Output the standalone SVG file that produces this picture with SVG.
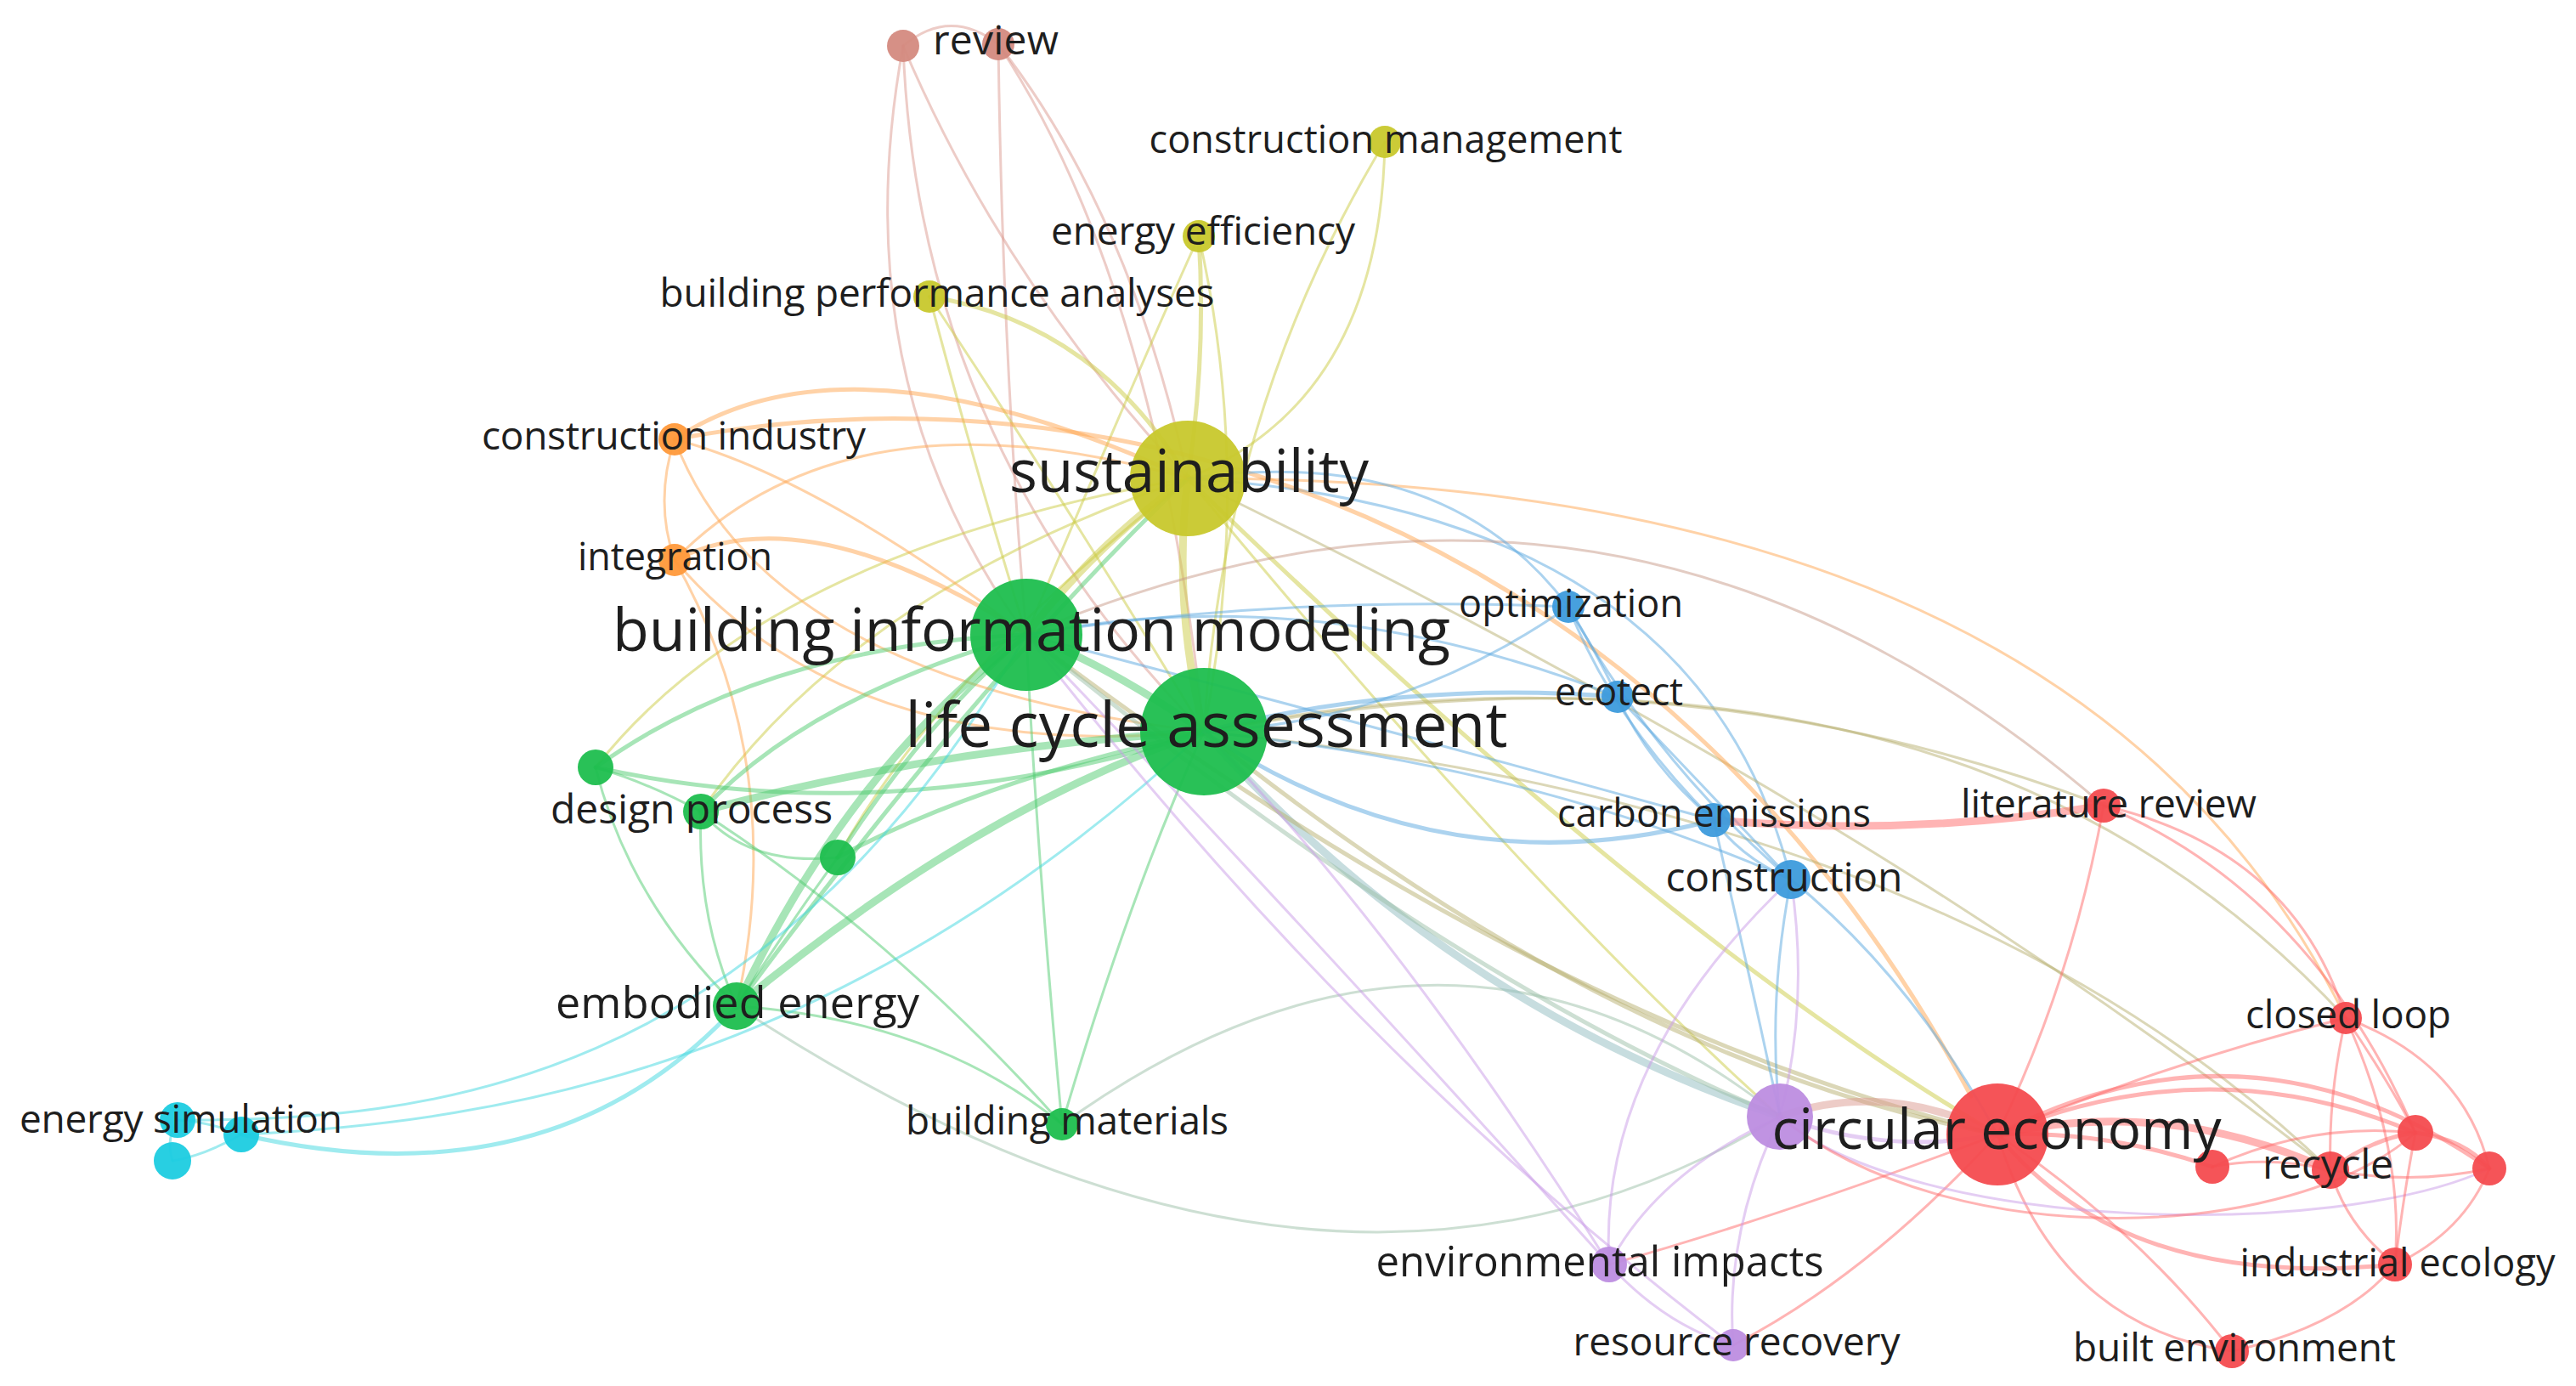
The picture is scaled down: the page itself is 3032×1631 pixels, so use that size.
<svg xmlns="http://www.w3.org/2000/svg" width="3032" height="1631" viewBox="0 0 3032 1631">
<style>
.e{fill:none;stroke-linecap:round;stroke-opacity:0.5}
.w1{stroke-width:3}.w2{stroke-width:5}.w3{stroke-width:9}
.k{stroke:#dc9a90}.y{stroke:#cccc44}.o{stroke:#ffa650}.g{stroke:#50cc70}.c{stroke:#40d8e0}
.b{stroke:#5aa8e0}.r{stroke:#ff6a6a}.p{stroke:#c99ce8}.ol{stroke:#b8b070}.gg{stroke:#9cbfa8}.bg{stroke:#90bcc0}.br{stroke:#c89a88}
.nr{fill:#f44b4f}.ng{fill:#1ebe4e}.nb{fill:#3d9bdc}.ny{fill:#c8c82c}.np{fill:#bd8de0}.nc{fill:#1ccce0}.no{fill:#ff993a}.nk{fill:#d48a80}
circle{fill-opacity:0.95}
text{font-family:"Open Sans","Liberation Sans",sans-serif;fill:#1e1e1e;text-anchor:middle}
</style>
<rect width="3032" height="1631" fill="#ffffff"/>
<g id="connectors">
<path class="e k w1" d="M1063,54 Q1118,8 1175,52"/>
<path class="e k w1" d="M1063,54 Q990,450 1208,747"/>
<path class="e k w1" d="M1063,54 Q1080,520 1417,861"/>
<path class="e k w1" d="M1063,54 Q1180,330 1398,563"/>
<path class="e k w1" d="M1175,52 Q1330,250 1398,563"/>
<path class="e k w1" d="M1175,52 Q1360,330 1417,861"/>
<path class="e k w1" d="M1175,52 Q1180,420 1208,747"/>
<path class="e y w1" d="M1630,167 Q1625,470 1398,563"/>
<path class="e y w1" d="M1630,167 Q1440,480 1417,861"/>
<path class="e y w2" d="M1411,278 Q1420,420 1398,563"/>
<path class="e y w1" d="M1411,278 Q1320,480 1208,747"/>
<path class="e y w1" d="M1411,278 Q1475,560 1417,861"/>
<path class="e y w2" d="M1094,349 Q1290,380 1398,563"/>
<path class="e y w1" d="M1094,349 Q1150,560 1208,747"/>
<path class="e y w1" d="M1094,349 Q1260,600 1417,861"/>
<path class="e y w3" d="M1398,563 Q1290,640 1208,747"/>
<path class="e y w3" d="M1398,563 Q1380,710 1417,861"/>
<path class="e o w1" d="M1398,563 Q2450,560 2761,1198"/>
<path class="e b w1" d="M1398,563 Q2000,600 2108,1035"/>
<path class="e y w2" d="M1398,563 Q1950,1100 2351,1335"/>
<path class="e y w1" d="M1398,563 Q1800,1050 2095,1314"/>
<path class="e ol w1" d="M1398,563 Q2200,950 2743,1377"/>
<path class="e y w1" d="M1398,563 Q1000,700 825,955"/>
<path class="e y w1" d="M1398,563 Q900,650 701,903"/>
<path class="e y w1" d="M1398,563 Q1100,800 986,1009"/>
<path class="e g w2" d="M1398,563 Q1150,800 867,1184"/>
<path class="e o w2" d="M794,517 Q1000,380 1398,563"/>
<path class="e o w1" d="M794,517 Q960,560 1208,747"/>
<path class="e o w1" d="M794,517 Q770,590 794,659"/>
<path class="e o w1" d="M794,517 Q900,800 1417,861"/>
<path class="e o w2" d="M794,659 Q950,580 1208,747"/>
<path class="e o w1" d="M794,659 Q1000,900 1417,861"/>
<path class="e o w1" d="M794,659 Q1000,450 1398,563"/>
<path class="e o w1" d="M794,659 Q930,900 867,1184"/>
<path class="e o w2" d="M794,517 C1300,420 1950,600 2320,1290"/>
<path class="e g w3" d="M1208,747 Q1300,780 1417,861"/>
<path class="e g w2" d="M1208,747 Q900,760 701,903"/>
<path class="e g w2" d="M1417,861 Q1050,980 701,903"/>
<path class="e g w2" d="M1208,747 Q950,820 825,955"/>
<path class="e g w3" d="M1417,861 Q1100,880 825,955"/>
<path class="e g w2" d="M1208,747 Q1080,860 986,1009"/>
<path class="e g w2" d="M1417,861 Q1150,920 986,1009"/>
<path class="e g w1" d="M825,955 Q880,1020 986,1009"/>
<path class="e g w1" d="M701,903 Q760,920 825,955"/>
<path class="e g w1" d="M825,955 Q820,1080 867,1184"/>
<path class="e g w1" d="M986,1009 Q920,1100 867,1184"/>
<path class="e g w1" d="M701,903 Q740,1060 867,1184"/>
<path class="e g w1" d="M825,955 Q1050,1100 1250,1323"/>
<path class="e g w3" d="M867,1184 Q1000,900 1208,747"/>
<path class="e g w3" d="M867,1184 Q1150,950 1417,861"/>
<path class="e g w1" d="M867,1184 Q1100,1200 1250,1323"/>
<path class="e gg w1" d="M867,1184 Q1560,1640 2095,1314"/>
<path class="e g w1" d="M1250,1323 Q1220,1000 1208,747"/>
<path class="e g w1" d="M1250,1323 Q1330,1050 1417,861"/>
<path class="e gg w1" d="M1250,1323 Q1700,1000 2095,1314"/>
<path class="e bg w3" d="M1417,861 Q1700,1180 2095,1314"/>
<path class="e ol w2" d="M1417,861 Q1900,1250 2351,1335"/>
<path class="e ol w2" d="M1208,747 Q1800,1200 2351,1335"/>
<path class="e gg w2" d="M1208,747 Q1700,1150 2095,1314"/>
<path class="e br w1" d="M1208,747 Q1900,450 2476,948"/>
<path class="e ol w1" d="M1417,861 Q2300,700 2761,1198"/>
<path class="e ol w1" d="M1417,861 Q1950,750 2476,948"/>
<path class="e ol w1" d="M1417,861 Q2300,950 2743,1377"/>
<path class="e c w1" d="M209,1318 C500,1320 900,1280 1208,747"/>
<path class="e c w1" d="M284,1335 C600,1320 1000,1250 1417,861"/>
<path class="e c w2" d="M284,1335 Q650,1420 867,1184"/>
<path class="e c w1" d="M209,1318 Q245,1320 284,1335"/>
<path class="e c w1" d="M284,1335 Q240,1360 203,1366"/>
<path class="e c w1" d="M209,1318 Q195,1340 203,1366"/>
<path class="e b w1" d="M1846,714 Q1700,520 1398,563"/>
<path class="e b w1" d="M1846,714 Q1650,850 1417,861"/>
<path class="e b w1" d="M1846,714 Q1500,700 1208,747"/>
<path class="e b w1" d="M1846,714 Q1880,770 1904,820"/>
<path class="e b w1" d="M1846,714 Q1900,850 2017,965"/>
<path class="e b w1" d="M1846,714 Q1950,900 2108,1035"/>
<path class="e b w1" d="M1904,820 Q1940,900 2017,965"/>
<path class="e b w1" d="M1904,820 Q2000,920 2108,1035"/>
<path class="e b w2" d="M1904,820 Q1650,800 1417,861"/>
<path class="e b w1" d="M1904,820 Q1550,680 1208,747"/>
<path class="e b w2" d="M2017,965 Q1700,1050 1417,861"/>
<path class="e b w1" d="M2017,965 Q1600,850 1208,747"/>
<path class="e b w1" d="M2017,965 Q2050,1010 2108,1035"/>
<path class="e b w1" d="M2108,1035 Q1800,900 1417,861"/>
<path class="e b w1" d="M2108,1035 Q2080,1180 2095,1314"/>
<path class="e p w1" d="M2108,1035 Q2130,1180 2095,1314"/>
<path class="e b w1" d="M2108,1035 Q2250,1150 2351,1335"/>
<path class="e b w1" d="M2017,965 Q2060,1150 2095,1314"/>
<path class="e r w3" d="M2017,965 Q2250,985 2476,948"/>
<path class="e r w1" d="M2476,948 Q2440,1150 2351,1335"/>
<path class="e r w1" d="M2476,948 Q2700,1000 2761,1198"/>
<path class="e r w1" d="M2476,948 Q2720,1050 2843,1333"/>
<path class="e r w2" d="M2351,1335 Q2480,1330 2604,1373"/>
<path class="e r w3" d="M2351,1335 Q2550,1290 2743,1377"/>
<path class="e r w2" d="M2351,1335 Q2600,1230 2843,1333"/>
<path class="e r w2" d="M2351,1335 Q2650,1180 2930,1375"/>
<path class="e r w1" d="M2351,1335 Q2550,1250 2761,1198"/>
<path class="e r w2" d="M2351,1335 Q2500,1520 2819,1488"/>
<path class="e r w1" d="M2351,1335 Q2420,1560 2627,1590"/>
<path class="e r w1" d="M2351,1335 Q2520,1450 2627,1590"/>
<path class="e r w1" d="M2351,1335 Q2100,1430 1894,1488"/>
<path class="e r w1" d="M2351,1335 Q2200,1500 2040,1583"/>
<path class="e k w3" d="M2351,1335 Q2220,1270 2095,1314"/>
<path class="e p w2" d="M2351,1335 Q2220,1360 2095,1314"/>
<path class="e p w1" d="M2095,1314 C2250,1450 2750,1460 2930,1375"/>
<path class="e r w1" d="M2095,1314 C2300,1480 2700,1460 2843,1333"/>
<path class="e r w1" d="M2604,1373 Q2670,1360 2743,1377"/>
<path class="e r w1" d="M2604,1373 Q2720,1320 2843,1333"/>
<path class="e r w2" d="M2743,1377 Q2790,1340 2843,1333"/>
<path class="e r w1" d="M2743,1377 Q2840,1395 2930,1375"/>
<path class="e r w2" d="M2843,1333 Q2900,1340 2930,1375"/>
<path class="e r w1" d="M2761,1198 Q2810,1270 2843,1333"/>
<path class="e r w1" d="M2761,1198 Q2740,1290 2743,1377"/>
<path class="e r w1" d="M2761,1198 Q2900,1250 2930,1375"/>
<path class="e r w1" d="M2761,1198 Q2830,1350 2819,1488"/>
<path class="e r w1" d="M2819,1488 Q2900,1450 2930,1375"/>
<path class="e r w1" d="M2819,1488 Q2830,1400 2843,1333"/>
<path class="e r w1" d="M2819,1488 Q2760,1440 2743,1377"/>
<path class="e r w1" d="M2627,1590 Q2760,1560 2819,1488"/>
<path class="e p w1" d="M2095,1314 Q1950,1380 1894,1488"/>
<path class="e p w1" d="M2095,1314 Q2030,1450 2040,1583"/>
<path class="e p w1" d="M1894,1488 Q1960,1560 2040,1583"/>
<path class="e p w1" d="M1894,1488 Q1880,1250 2108,1035"/>
<path class="e p w1" d="M1894,1488 Q1650,1100 1417,861"/>
<path class="e p w1" d="M1894,1488 Q1500,1050 1208,747"/>
<path class="e p w1" d="M2040,1583 Q1600,1250 1208,747"/>
</g>
<g id="n-review-a"><circle class="nk" cx="1063" cy="54" r="19"/></g>
<g id="n-green-a"><circle class="ng" cx="701" cy="903" r="21"/></g>
<g id="n-green-b"><circle class="ng" cx="986" cy="1009" r="21"/></g>
<g id="n-cyan-b"><circle class="nc" cx="284" cy="1335" r="21"/></g>
<g id="n-cyan-c"><circle class="nc" cx="203" cy="1366" r="22"/></g>
<g id="n-purple"><circle class="np" cx="2095" cy="1314" r="39"/></g>
<g id="n-red-a"><circle class="nr" cx="2604" cy="1373" r="20"/></g>
<g id="n-red-b"><circle class="nr" cx="2843" cy="1333" r="21"/></g>
<g id="n-red-c"><circle class="nr" cx="2930" cy="1375" r="20"/></g>
<g id="n-review"><circle class="nk" cx="1175" cy="52" r="19"/><text x="1172" y="64" font-size="48" textLength="148">review</text></g>
<g id="n-construction-management"><circle class="ny" cx="1630" cy="167" r="19"/><text x="1631" y="180" font-size="45" textLength="557">construction management</text></g>
<g id="n-energy-efficiency"><circle class="ny" cx="1411" cy="278" r="19"/><text x="1416" y="288" font-size="46" textLength="358">energy efficiency</text></g>
<g id="n-building-performance-analyses"><circle class="ny" cx="1094" cy="349" r="19"/><text x="1103" y="361" font-size="46" textLength="653">building performance analyses</text></g>
<g id="n-construction-industry"><circle class="no" cx="794" cy="517" r="19"/><text x="793" y="529" font-size="46" textLength="452">construction industry</text></g>
<g id="n-integration"><circle class="no" cx="794" cy="659" r="19"/><text x="794.5" y="671" font-size="45" textLength="229">integration</text></g>
<g id="n-sustainability"><circle class="ny" cx="1398" cy="563" r="68"/><text x="1399.5" y="579" font-size="69" textLength="423">sustainability</text></g>
<g id="n-building-information-modeling"><circle class="ng" cx="1208" cy="747" r="66"/><text x="1214" y="766" font-size="70" textLength="986">building information modeling</text></g>
<g id="n-life-cycle-assessment"><circle class="ng" cx="1417" cy="861" r="75"/><text x="1420" y="879" font-size="73" textLength="709">life cycle assessment</text></g>
<g id="n-optimization"><circle class="nb" cx="1846" cy="714" r="19"/><text x="1849" y="726" font-size="45" textLength="264">optimization</text></g>
<g id="n-ecotect"><circle class="nb" cx="1904" cy="820" r="19"/><text x="1905.5" y="830" font-size="45" textLength="151">ecotect</text></g>
<g id="n-carbon-emissions"><circle class="nb" cx="2017" cy="965" r="20"/><text x="2017.5" y="973" font-size="45" textLength="369">carbon emissions</text></g>
<g id="n-construction"><circle class="nb" cx="2108" cy="1035" r="23"/><text x="2100" y="1049" font-size="48" textLength="279">construction</text></g>
<g id="n-literature-review"><circle class="nr" cx="2476" cy="948" r="20"/><text x="2482" y="962" font-size="46" textLength="348">literature review</text></g>
<g id="n-design-process"><circle class="ng" cx="825" cy="955" r="21"/><text x="814" y="969" font-size="48" textLength="332">design process</text></g>
<g id="n-embodied-energy"><circle class="ng" cx="867" cy="1184" r="28"/><text x="868" y="1198" font-size="52" textLength="428">embodied energy</text></g>
<g id="n-energy-simulation"><circle class="nc" cx="209" cy="1318" r="21"/><text x="213" y="1333" font-size="46" textLength="380">energy simulation</text></g>
<g id="n-building-materials"><circle class="ng" cx="1250" cy="1323" r="19"/><text x="1256" y="1335" font-size="46" textLength="380">building materials</text></g>
<g id="n-environmental-impacts"><circle class="np" cx="1894" cy="1488" r="21"/><text x="1883" y="1502" font-size="49" textLength="527">environmental impacts</text></g>
<g id="n-resource-recovery"><circle class="np" cx="2040" cy="1583" r="19"/><text x="2044" y="1595" font-size="46" textLength="385">resource recovery</text></g>
<g id="n-closed-loop"><circle class="nr" cx="2761" cy="1198" r="19"/><text x="2764" y="1210" font-size="46" textLength="242">closed loop</text></g>
<g id="n-recycle"><circle class="nr" cx="2743" cy="1377" r="22"/><text x="2740" y="1387" font-size="48" textLength="154">recycle</text></g>
<g id="n-industrial-ecology"><circle class="nr" cx="2819" cy="1488" r="20"/><text x="2822" y="1502" font-size="45" textLength="371">industrial ecology</text></g>
<g id="n-built-environment"><circle class="nr" cx="2627" cy="1590" r="20"/><text x="2630" y="1602" font-size="46" textLength="380">built environment</text></g>
<g id="n-circular-economy"><circle class="nr" cx="2351" cy="1335" r="60"/><text x="2350" y="1352" font-size="66" textLength="529">circular economy</text></g>
</svg>
